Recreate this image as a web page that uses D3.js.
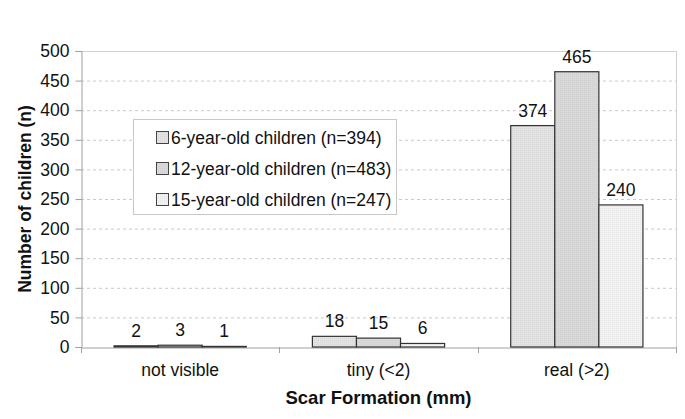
<!DOCTYPE html>
<html>
<head>
<meta charset="utf-8">
<script src="https://cdn.jsdelivr.net/npm/d3@7/dist/d3.min.js"></script>
<style>
  body { margin: 0; background: #fff; }
  svg { display: block; font-family: "Liberation Sans", Arial, sans-serif; }
</style>
</head>
<body>
<svg id="chart" width="685" height="419"></svg>
<script>
const categories = ["not visible", "tiny (<2)", "real (>2)"];
const seriesNames = ["6-year-old children (n=394)", "12-year-old children (n=483)", "15-year-old children (n=247)"];
const age6 = [2, 18, 374];
const age12 = [3, 15, 465];
const age15 = [1, 6, 240];
const yTicks = [0, 50, 100, 150, 200, 250, 300, 350, 400, 450, 500];
const seriesValues = [age6, age12, age15];
const fills = ["#e3e3e3", "#d9d9d9", "#f2f2f2"];

(function () {
const svg = d3.select("#chart");
const mLeft = 81, mRight = 676, mTop = 51, mBottom = 347;
const fs = 17.5;

const defs = svg.append("defs");
fills.forEach((f, i) => {
  const p = defs.append("pattern").attr("id", "pat" + i).attr("patternUnits", "userSpaceOnUse")
    .attr("width", 2).attr("height", 2);
  p.append("rect").attr("width", 2).attr("height", 2).attr("fill", f);
  p.append("rect").attr("width", 1).attr("height", 1).attr("fill", d3.color(f).darker(0.15));
});

const x = d3.scaleBand().domain(categories).range([mLeft, mRight]).paddingInner(0).paddingOuter(0);
const bw = x.bandwidth();
const xs = d3.scaleBand().domain(d3.range(seriesNames.length)).range([bw / 6, bw * 5 / 6]).padding(0);
const y = d3.scaleLinear().domain([0, 500]).range([mBottom, mTop]);

// gridlines
svg.append("g").selectAll("line").data(yTicks.filter(t => t > 0 && t < 500)).join("line")
  .attr("x1", mLeft).attr("x2", mRight)
  .attr("y1", d => y(d) + 0.5).attr("y2", d => y(d) + 0.5)
  .attr("stroke", "#c8c8c8").attr("stroke-dasharray", "3,3").attr("stroke-width", 1);

// plot border top/right
svg.append("line").attr("x1", mLeft).attr("x2", mRight).attr("y1", y(500) + 0.5).attr("y2", y(500) + 0.5)
  .attr("stroke", "#d0d0d0");
svg.append("line").attr("x1", mRight + 0.5).attr("x2", mRight + 0.5).attr("y1", y(500)).attr("y2", mBottom)
  .attr("stroke", "#d0d0d0");

// y axis
const yAxis = d3.axisLeft(y).tickValues(yTicks).tickSize(6).tickPadding(6);
const gy = svg.append("g").attr("transform", `translate(${mLeft + 0.5},0)`).call(yAxis);
gy.select(".domain").attr("stroke", "#a0a0a0");
gy.selectAll(".tick line").attr("stroke", "#a0a0a0");
gy.selectAll(".tick text").attr("font-size", fs).attr("fill", "#111")
  .attr("font-family", "Liberation Sans, Arial, sans-serif");

// x axis
const xAxis = d3.axisBottom(x).tickSize(0).tickPadding(16);
const gx = svg.append("g").attr("transform", `translate(0,${mBottom + 0.5})`).call(xAxis);
gx.select(".domain").attr("stroke", "#a0a0a0");
gx.selectAll(".tick text").attr("font-size", fs).attr("fill", "#111")
  .attr("font-family", "Liberation Sans, Arial, sans-serif");
const bounds = categories.map(c => x(c)).concat([mRight]);
svg.append("g").selectAll("line").data(bounds).join("line")
  .attr("x1", d => Math.round(d) + 0.5).attr("x2", d => Math.round(d) + 0.5)
  .attr("y1", mBottom).attr("y2", mBottom + 6).attr("stroke", "#a0a0a0");

// bars
const data = [];
categories.forEach((c, ci) => seriesValues.forEach((vals, si) => data.push({ c, si, v: vals[ci] })));
svg.append("g").selectAll("rect").data(data).join("rect")
  .attr("x", d => x(d.c) + xs(d.si))
  .attr("y", d => y(d.v))
  .attr("width", xs.bandwidth())
  .attr("height", d => y(0) - y(d.v))
  .attr("fill", d => `url(#pat${d.si})`)
  .attr("stroke", "#333").attr("stroke-width", 1.2);

// value labels
svg.append("g").selectAll("text").data(data).join("text")
  .attr("x", d => x(d.c) + xs(d.si) + xs.bandwidth() / 2)
  .attr("y", d => y(d.v) - 9)
  .attr("text-anchor", "middle").attr("font-size", fs).attr("fill", "#111")
  .text(d => d.v);

// axis titles
svg.append("text").attr("transform", `translate(31,${(mTop + mBottom) / 2}) rotate(-90)`)
  .attr("text-anchor", "middle").attr("font-size", 17.5).attr("font-weight", "bold").attr("fill", "#111")
  .text("Number of children (n)");
svg.append("text").attr("x", (mLeft + mRight) / 2).attr("y", 404)
  .attr("text-anchor", "middle").attr("font-size", 18.5).attr("font-weight", "bold").attr("fill", "#111")
  .text("Scar Formation (mm)");

// legend
const lg = svg.append("g");
lg.append("rect").attr("x", 133.5).attr("y", 119.5).attr("width", 263).attr("height", 95)
  .attr("fill", "#fff").attr("stroke", "#c8c8c8");
const rowsY = [138, 169, 200];
seriesNames.forEach((name, i) => {
  lg.append("rect").attr("x", 156.5).attr("y", rowsY[i] - 6.5).attr("width", 12).attr("height", 12)
    .attr("fill", `url(#pat${i})`).attr("stroke", "#444");
  lg.append("text").attr("x", 171).attr("y", rowsY[i]).attr("dy", "0.36em")
    .attr("font-size", fs).attr("fill", "#111").text(name);
});
})();
</script>
</body>
</html>
